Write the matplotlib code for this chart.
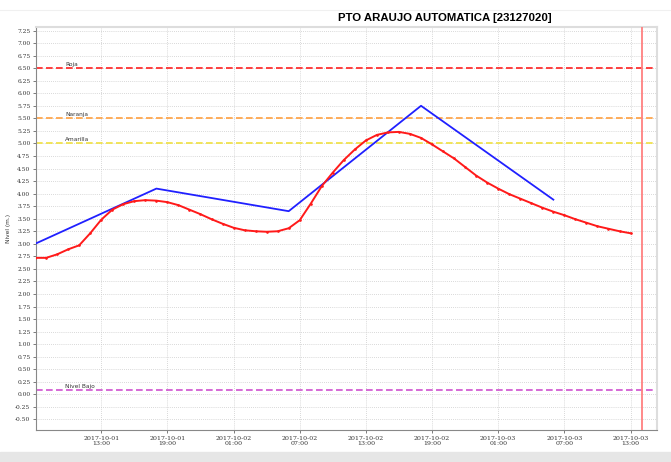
import matplotlib
matplotlib.use("Agg")
import matplotlib.pyplot as plt
import matplotlib.dates as mdates
import numpy as np
from datetime import datetime, timedelta

# ---- data ----
start = datetime(2017, 10, 1, 7, 0)
red_values = [2.72, 2.72, 2.79, 2.89, 2.97, 3.21, 3.48, 3.68, 3.79, 3.85,
              3.87, 3.86, 3.83, 3.77, 3.68, 3.59, 3.49, 3.40, 3.32, 3.27,
              3.25, 3.24, 3.25, 3.31, 3.47, 3.80, 4.15, 4.42, 4.67, 4.88,
              5.06, 5.17, 5.22, 5.23, 5.19, 5.11, 4.98, 4.84, 4.70, 4.53,
              4.36, 4.22, 4.10, 3.99, 3.90, 3.81, 3.72, 3.64, 3.57, 3.49,
              3.42, 3.35, 3.30, 3.25, 3.21]
red_times = [start + timedelta(hours=i) for i in range(len(red_values))]

blue_times = [datetime(2017, 10, 1, 7, 0), datetime(2017, 10, 1, 18, 0),
              datetime(2017, 10, 2, 6, 0), datetime(2017, 10, 2, 18, 0),
              datetime(2017, 10, 3, 6, 0)]
blue_values = [3.00, 4.10, 3.65, 5.75, 3.88]

thresholds = [6.50, 5.50, 5.00, 0.08]
threshold_labels = ["Roja", "Naranja", "Amarilla", "Nivel Bajo"]
threshold_colors = ["#ff2020", "#ffa040", "#f0e040", "#d050d0"]

now_time = datetime(2017, 10, 3, 14, 0)
xtick_times = [datetime(2017, 10, 1, 13, 0) + timedelta(hours=6 * i) for i in range(9)]
yticks = np.arange(-0.50, 7.26, 0.25)

title = "PTO ARAUJO AUTOMATICA [23127020]"
ylabel = "Nivel (m.)"

# ---- figure ----
fig = plt.figure(figsize=(6.71, 4.62), dpi=100)
fig.patch.set_facecolor("white")
ax = fig.add_axes([36 / 671, 1 - 430 / 462, (657 - 36) / 671, (430 - 27) / 462])

# bottom gray band
fig.patches.append(plt.Rectangle((0, 0), 1, 10 / 462, transform=fig.transFigure,
                                 color="#e6e6e6", zorder=0))
fig.lines.append(plt.Line2D([0, 1], [1 - 10 / 462, 1 - 10 / 462], transform=fig.transFigure,
                            color="#f0f0f0", lw=0.8))

for v, lab, c in zip(thresholds, threshold_labels, threshold_colors):
    ax.axhline(v, color=c, lw=1.2, ls=(0, (4, 2)), zorder=2)
    ax.text(datetime(2017, 10, 1, 9, 45), v + 0.03, lab, fontsize=4.2,
            color="#333333", va="bottom", ha="left", family="DejaVu Sans")

ax.plot(blue_times, blue_values, color="#2020ff", lw=1.3, zorder=3)
ax.plot(red_times, red_values, color="#ff1a1a", lw=1.4, marker="o", ms=0.9, zorder=4)
ax.axvline(now_time, color="#ff8080", lw=1.3, zorder=5)

ax.set_xlim(datetime(2017, 10, 1, 7, 5), datetime(2017, 10, 3, 15, 24))
ax.set_ylim(-0.71, 7.32)
ax.set_yticks(yticks)
ax.set_yticklabels([f"{v:.2f}" for v in yticks], fontsize=4.2, family="DejaVu Serif")
ax.set_xticks(xtick_times)
ax.xaxis.set_major_formatter(mdates.DateFormatter("%Y-%m-%d\n%H:%M"))
for t in ax.get_xticklabels():
    t.set_fontsize(4.5)
    t.set_family("DejaVu Serif")
ax.tick_params(axis="both", length=2, width=0.6, color="#666666", pad=2, labelcolor="#333333")
ax.grid(True, color="#cccccc", ls=(0, (1, 1.5)), lw=0.6)
ax.set_axisbelow(True)

for s in ["left", "bottom"]:
    ax.spines[s].set_color("#888888")
    ax.spines[s].set_linewidth(0.8)
for s in ["top", "right"]:
    ax.spines[s].set_color("#dddddd")
    ax.spines[s].set_linewidth(1.5)

ax.set_ylabel(ylabel, fontsize=4.2, labelpad=3, color="#333333")
fig.text(445 / 671, 1 - 18 / 462, title, fontsize=8.2, fontweight="bold",
         family="Liberation Sans", ha="center", va="center")

fig.savefig("out.png", dpi=100)
